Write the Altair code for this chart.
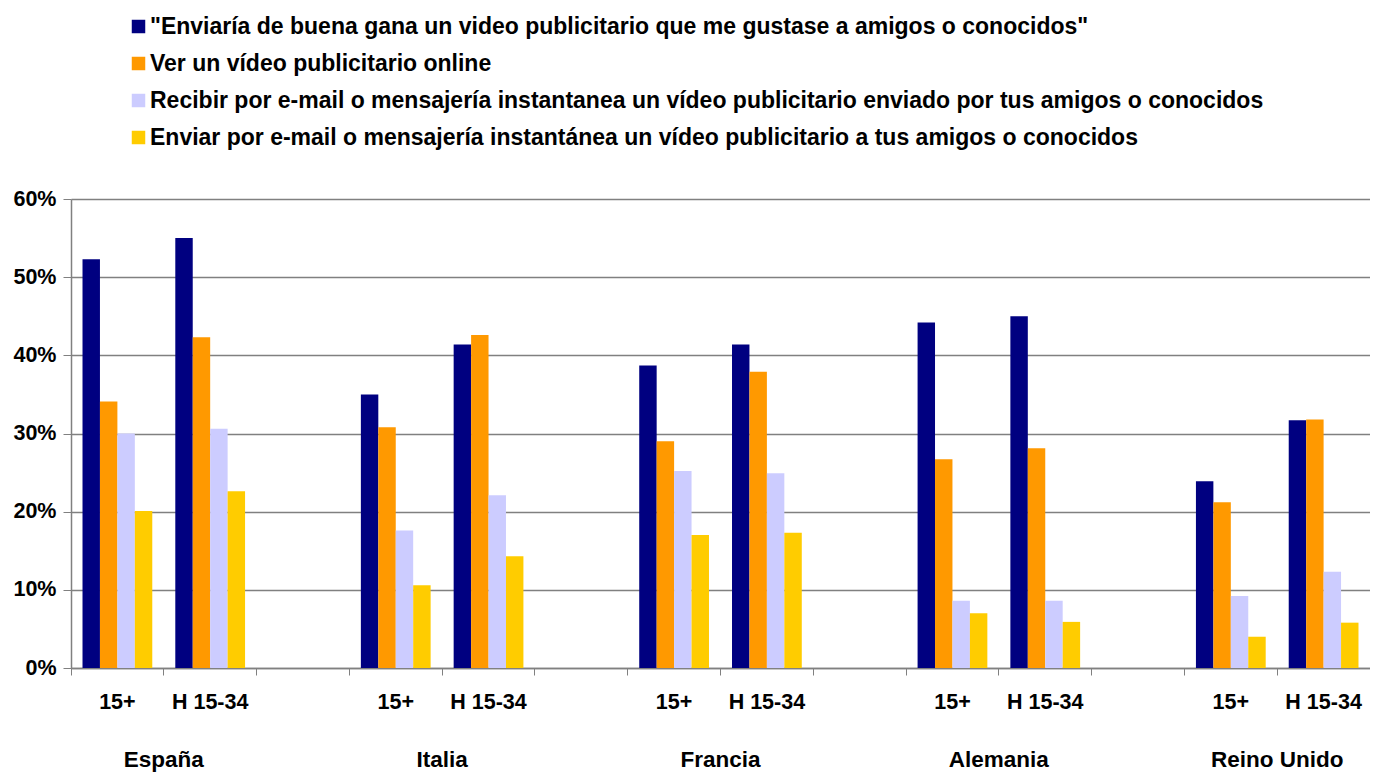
import altair as alt
import pandas as pd

series = [
    '"Enviaría de buena gana un video publicitario que me gustase a amigos o conocidos"',
    "Ver un vídeo publicitario online",
    "Recibir por e-mail o mensajería instantanea un vídeo publicitario enviado por tus amigos o conocidos",
    "Enviar por e-mail o mensajería instantánea un vídeo publicitario a tus amigos o conocidos",
]
colors = ["#000080", "#FF9900", "#CCCCFF", "#FFCC00"]

countries = ["España", "Italia", "Francia", "Alemania", "Reino Unido"]
groups = ["15+", "H 15-34"]

# values[country][group] = [series1, series2, series3, series4]  (percent)
values = {
    "España":      {"15+": [52.3, 34.1, 30.0, 20.1], "H 15-34": [55.0, 42.3, 30.6, 22.6]},
    "Italia":      {"15+": [35.0, 30.8, 17.6, 10.6], "H 15-34": [41.4, 42.6, 22.1, 14.3]},
    "Francia":     {"15+": [38.7, 29.0, 25.2, 17.0], "H 15-34": [41.4, 37.9, 24.9, 17.3]},
    "Alemania":    {"15+": [44.2, 26.7, 8.6, 7.0],   "H 15-34": [45.0, 28.1, 8.6, 5.9]},
    "Reino Unido": {"15+": [23.9, 21.2, 9.2, 4.0],   "H 15-34": [31.7, 31.8, 12.3, 5.8]},
}
y_ticks = [0, 0.1, 0.2, 0.3, 0.4, 0.5, 0.6]

slots = []
for i, c in enumerate(countries):
    for g in groups:
        slots.append(f"{c}|{g}")
    if i < len(countries) - 1:
        slots.append(f"gap{i}")

rows = []
for c in countries:
    for g in groups:
        for k, (s, v) in enumerate(zip(series, values[c][g])):
            rows.append({"slot": f"{c}|{g}", "series": s, "sidx": k, "value": v / 100})
df = pd.DataFrame(rows)

country_df = pd.DataFrame({"country": countries, "slot": [f"{c}|H 15-34" for c in countries]})

FONT = "Liberation Sans"
W, H = 1299, 469

x_scale = alt.Scale(domain=slots, paddingInner=0, paddingOuter=0)

bars = alt.Chart(df).mark_bar().encode(
    x=alt.X("slot:N", scale=x_scale, title=None,
            axis=alt.Axis(
                labelExpr="indexof(datum.value,'|')>=0 ? substring(datum.value, indexof(datum.value,'|')+1) : ''",
                labelAngle=0, bandPosition=0, tickSize=7, tickColor="#808080",
                domainColor="#808080", domainWidth=1.5, labelFont=FONT, labelFontSize=21.5,
                labelFontWeight="bold", labelColor="black", labelPadding=16, grid=False)),
    xOffset=alt.XOffset("sidx:O", scale=alt.Scale(paddingInner=0, paddingOuter=0.66)),
    y=alt.Y("value:Q", scale=alt.Scale(domain=[0, 0.6]), title=None,
            axis=alt.Axis(values=y_ticks, format=".0%", tickSize=8,
                          tickColor="#808080", domainColor="#808080", domainWidth=1.5,
                          gridColor="#808080", gridWidth=1.5, labelFont=FONT,
                          labelFontSize=21.5, labelFontWeight="bold", labelColor="black",
                          labelPadding=7)),
    color=alt.Color("series:N",
                    scale=alt.Scale(domain=series, range=colors),
                    legend=alt.Legend(title=None, orient="none", legendX=56, legendY=-184,
                                      direction="vertical", symbolType="square",
                                      symbolSize=182, symbolStrokeWidth=0, symbolOpacity=1,
                                      labelFont=FONT, labelFontSize=23, labelFontWeight="bold",
                                      labelColor="black", labelLimit=2000, labelOffset=0,
                                      rowPadding=13, padding=0)),
)

country_text = alt.Chart(country_df).mark_text(
    font=FONT, fontSize=22.5, fontWeight="bold", color="black", baseline="alphabetic", align="center"
).encode(
    x=alt.X("slot:N", scale=x_scale, bandPosition=0),
    y=alt.value(H + 99),
    text="country:N",
)

chart = alt.layer(bars, country_text).properties(
    width=W, height=H,
    autosize=alt.AutoSizeParams(type="none"),
    padding={"left": 63, "top": 191, "right": 0, "bottom": 104},
).configure_view(stroke=None)

chart.save("out.html", embed_options={"renderer": "svg", "actions": False})
